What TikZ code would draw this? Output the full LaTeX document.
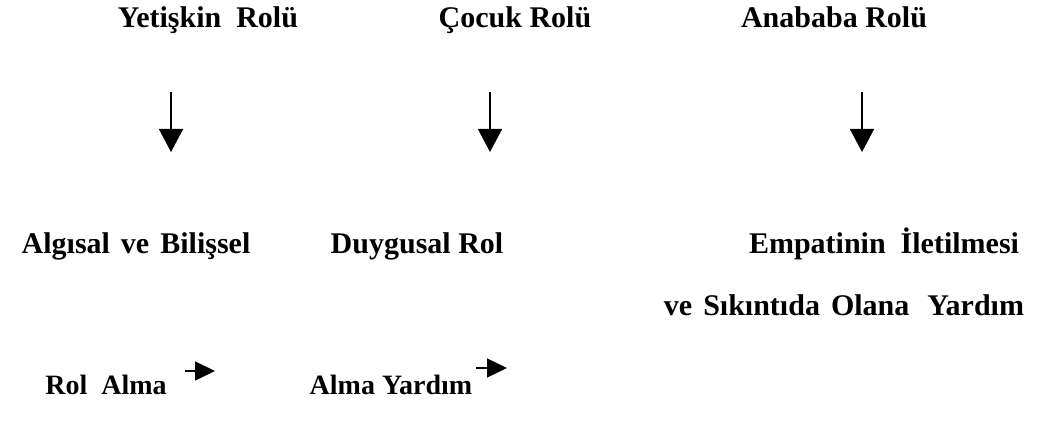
\documentclass[tikz,border=0pt]{standalone}
\usepackage{fontspec}
\setmainfont{Liberation Serif}
\usetikzlibrary{arrows.meta}

\begin{document}
\begin{tikzpicture}[x=1pt,y=-1pt,
	rol/.style={font=\fontsize{30}{36}\selectfont\bfseries, inner sep=0pt, anchor=base},
	altrol/.style={rol, font=\fontsize{28}{34}\selectfont\bfseries},
	ok/.style={-{Triangle[width=24pt,length=23pt]}, line width=1.4pt},
	kisaok/.style={-{Triangle[width=19pt,length=20pt]}, line width=1.4pt}]
	\useasboundingbox (0,0) rectangle (1057,422);
	%Roller
	\node [rol] (yetiskin) at (208,28) {Yetişkin~ Rolü};
	\node [rol] (cocuk) at (515,28) {Çocuk Rolü};
	\node [rol] (anababa) at (834,28) {Anababa Rolü};
	%Oklar
	\coordinate (a1) at (171,92);  \coordinate (b1) at (171,152);
	\coordinate (a2) at (490,92);  \coordinate (b2) at (490,152);
	\coordinate (a3) at (862,92);  \coordinate (b3) at (862,152);
	\draw [ok] (a1) -- (b1);
	\draw [ok] (a2) -- (b2);
	\draw [ok] (a3) -- (b3);
	%Sonuclar
	\node [rol] (algisal) at (136,253) {Algısal\hspace{11pt}ve\hspace{11pt}Bilişsel};
	\node [rol] (duygusal) at (417,253) {Duygusal Rol};
	\node [rol] (empati) at (884,253) {Empatinin~ İletilmesi};
	\node [rol] (sikinti) at (844,315)
		{ve\hspace{11pt}Sıkıntıda\hspace{11pt}Olana\hspace{18pt}Yardım};
	%Alt satir
	\node [altrol] (rolalma) at (106,394) {Rol~ Alma};
	\node [altrol] (almayardim) at (391,394) {Alma Yardım};
	\coordinate (c1) at (185,371);  \coordinate (d1) at (215,371);
	\coordinate (c2) at (476,368);  \coordinate (d2) at (507,368);
	\draw [kisaok] (c1) -- (d1);
	\draw [kisaok] (c2) -- (d2);
\end{tikzpicture}
\end{document}
